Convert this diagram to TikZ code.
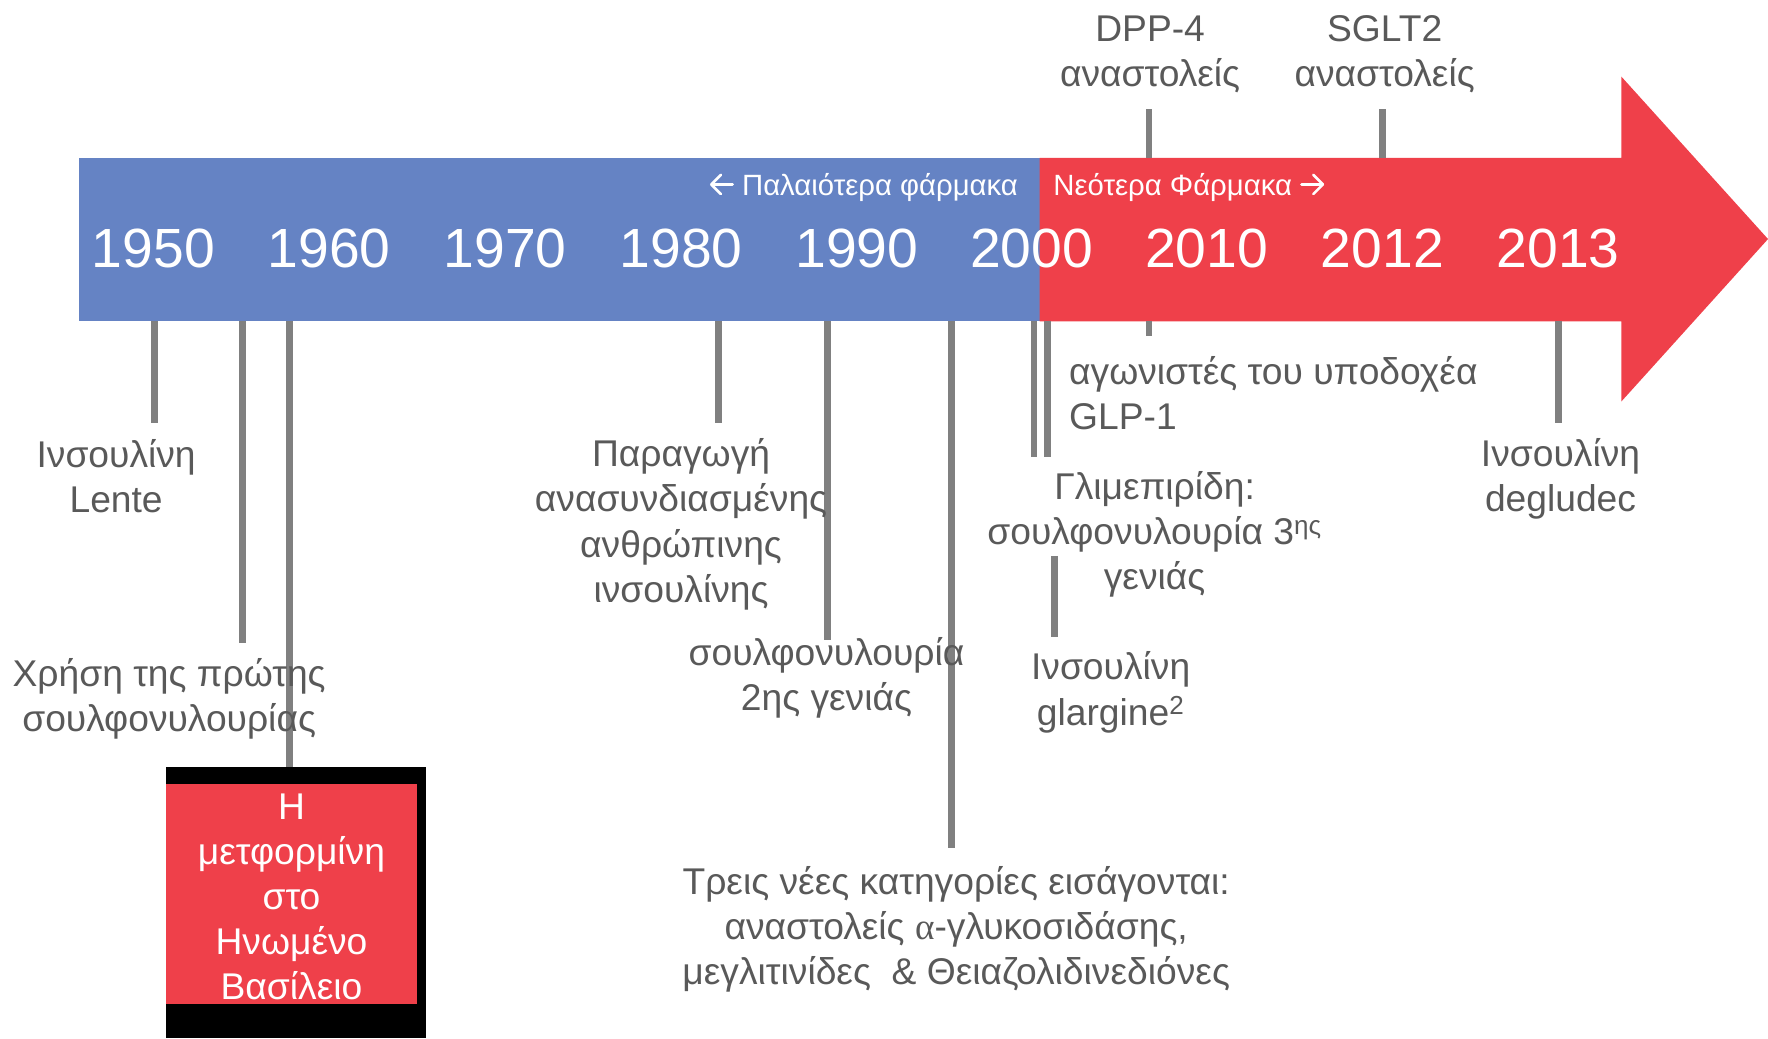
\documentclass[tikz,border=0pt]{standalone}
\usepackage{fontspec}
\setmainfont{Liberation Sans}
\newfontfamily\serifalpha{Liberation Serif}
\definecolor{barblue}{RGB}{101,131,196}
\definecolor{barred}{RGB}{239,64,74}
\definecolor{txtgray}{RGB}{89,89,89}
\definecolor{linegray}{RGB}{128,128,128}
\newcommand{\larr}{\tikz[baseline=0pt,x=1pt,y=1pt]{\draw[white,line width=2.3pt,line cap=round,line join=round] (20,9.5)--(1,9.5) (9.5,1)--(1,9.5)--(9.5,18);}}
\newcommand{\rarr}{\tikz[baseline=0pt,x=1pt,y=1pt]{\draw[white,line width=2.3pt,line cap=round,line join=round] (0,9.5)--(19,9.5) (10.5,1)--(19,9.5)--(10.5,18);}}
\begin{document}
\begin{tikzpicture}[x=1pt,y=-1pt,
  lbl/.style={text=txtgray, font=\fontsize{33}{40}\selectfont, align=center, inner sep=0pt},
  yr/.style={text=white, font=\fontsize{49}{52}\selectfont, inner sep=0pt},
  hdr/.style={text=white, font=\fontsize{26}{28}\selectfont, inner sep=0pt},
  tick/.style={draw=linegray, line width=6pt}]
\useasboundingbox (0,0) rectangle (1568,921);
% bar
\fill[barblue] (70,140) rectangle (922,285);
\fill[barred] (922,140) -- (1438,140) -- (1438,68) -- (1568,212) -- (1438,356) -- (1438,285) -- (922,285) -- cycle;
% header
\node[hdr, anchor=east] (old) at (903,166) {\larr\ Παλαιότερα φάρμακα};
\node[hdr, anchor=west] (new) at (934,166) {Νεότερα Φάρμακα \rarr};
% years
\node[yr] (y1950) at (136,220) {1950};
\node[yr] (y1960) at (292,220) {1960};
\node[yr] (y1970) at (448,220) {1970};
\node[yr] (y1980) at (604,220) {1980};
\node[yr] (y1990) at (760,220) {1990};
\node[yr] (y2000) at (915,220) {2000};
\node[yr] (y2010) at (1070,220) {2010};
\node[yr] (y2012) at (1226,220) {2012};
\node[yr] (y2013) at (1382,220) {2013};
% tick coordinates
\coordinate (a1) at (137,285); \coordinate (b1) at (137,375);
\coordinate (a2) at (215,285); \coordinate (b2) at (215,570);
\coordinate (a3) at (257,285); \coordinate (b3) at (257,682);
\coordinate (a4) at (637,285); \coordinate (b4) at (637,375);
\coordinate (a5) at (734,285); \coordinate (b5) at (734,568);
\coordinate (a6) at (844,285); \coordinate (b6) at (844,752);
\coordinate (a7) at (917,285); \coordinate (b7) at (917,405);
\coordinate (a8) at (929,285); \coordinate (b8) at (929,405);
\coordinate (a9) at (1019,285); \coordinate (b9) at (1019,298);
\coordinate (a10) at (1382,285); \coordinate (b10) at (1382,375);
\coordinate (a11) at (1019,140); \coordinate (b11) at (1019,97);
\coordinate (a12) at (1226,140); \coordinate (b12) at (1226,97);
\coordinate (a13) at (935,493); \coordinate (b13) at (935,565);
\foreach \i in {1,...,13} {\draw[tick] (a\i) -- (b\i);}
% metformin box
\fill[black] (147,680) rectangle (378,921);
\fill[barred] (147,695) rectangle (370,890);
\node[text=white, font=\fontsize{33}{40}\selectfont, align=center, inner sep=0pt] (metf) at (258.5,795.5)
  {Η\\μετφορμίνη\\στο\\Ηνωμένο\\Βασίλειο};
% labels
\node[lbl] (lente) at (103,422) {Ινσουλίνη\\Lente};
\node[lbl] (sulf1) at (150,620) {Χρήση της πρώτης\\σουλφονυλουρίας};
\node[lbl] (recomb) at (604,465) {Παραγωγή\\ανασυνδιασμένης\\ανθρώπινης\\ινσουλίνης};
\node[lbl] (sulf2) at (733,601) {σουλφονυλουρία\\2ης γενιάς};
\node[lbl] (three) at (848,824) {Τρεις νέες κατηγορίες εισάγονται:\\αναστολείς {\serifalpha α}-γλυκοσιδάσης,\\ μεγλιτινίδες \ \& Θειαζολιδινεδιόνες};
\node[lbl, align=left, anchor=west] (glp) at (948,349) {αγωνιστές του υποδοχέα\\GLP-1};
\node[lbl] (glim) at (1024,474) {Γλιμεπιρίδη:\\σουλφονυλουρία 3\textsuperscript{ης}\\γενιάς};
\node[lbl] (glarg) at (985,614) {Ινσουλίνη\\glargine\textsuperscript{2}};
\node[lbl] (deglu) at (1384,425) {Ινσουλίνη\\degludec};
\node[lbl] (dpp) at (1020,48) {DPP-4\\αναστολείς};
\node[lbl] (sglt) at (1228,48) {SGLT2\\αναστολείς};
\end{tikzpicture}
\end{document}
